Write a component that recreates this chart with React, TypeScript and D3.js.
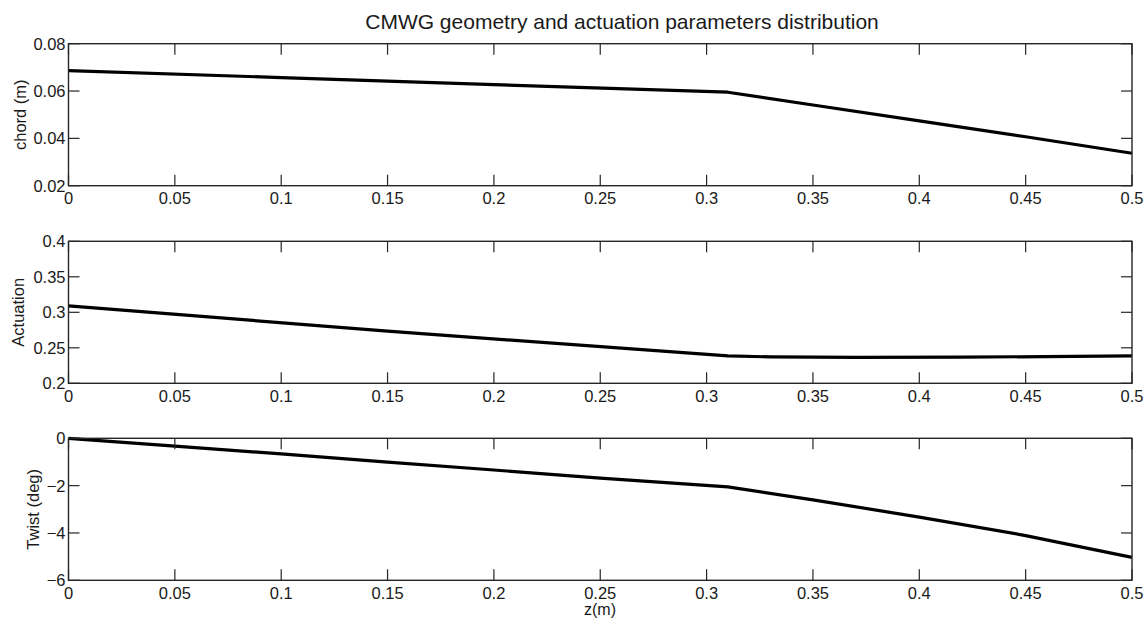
import React from "react";
import * as d3 from "d3";

const titleText = "CMWG geometry and actuation parameters distribution";
const xLabel = "z(m)";
const xTicks = [0, 0.05, 0.1, 0.15, 0.2, 0.25, 0.3, 0.35, 0.4, 0.45, 0.5];

const chordZ = [0, 0.1, 0.2, 0.31, 0.35, 0.4, 0.45, 0.5];
const chordVals = [0.0686, 0.0657, 0.0627, 0.0595, 0.0541, 0.0474, 0.0407, 0.0337];

const actZ = [0, 0.15, 0.31, 0.33, 0.37, 0.42, 0.5];
const actVals = [0.309, 0.2735, 0.2385, 0.2372, 0.2365, 0.2368, 0.2385];

const twistZ = [0, 0.05, 0.1, 0.15, 0.2, 0.25, 0.31, 0.35, 0.4, 0.45, 0.5];
const twistVals = [0, -0.33, -0.66, -1.01, -1.34, -1.68, -2.05, -2.6, -3.33, -4.11, -5.03];

const panels = [
  { label: "chord (m)", z: chordZ, v: chordVals, domain: [0.02, 0.08], ticks: [0.02, 0.04, 0.06, 0.08], fmt: (d: number) => d.toFixed(2), labelX: 20 },
  { label: "Actuation", z: actZ, v: actVals, domain: [0.2, 0.4], ticks: [0.2, 0.25, 0.3, 0.35, 0.4], fmt: (d: number) => String(+d.toFixed(2)), labelX: 18 },
  { label: "Twist (deg)", z: twistZ, v: twistVals, domain: [-6, 0], ticks: [-6, -4, -2, 0], fmt: (d: number) => (d < 0 ? "\u2212" + Math.abs(d) : String(d)), labelX: 33 },
];

const W = 1148;
const H = 619;
const left = 68.5;
const right = 1132;
const tops = [43.7, 241.3, 438.3];
const ph = 142;
const tickLen = 11;
const axisColor = "#262626";
const font = "'Liberation Sans', Arial, Helvetica, sans-serif";

export default function App() {
  const x = d3.scaleLinear().domain([0, 0.5]).range([left, right]);
  return (
    <svg width={W} height={H} style={{ position: "absolute", left: 0, top: 0, background: "#fff" }} fontFamily={font}>
      <rect width={W} height={H} fill="#fff" />
      <text x={622} y={29} textAnchor="middle" fontSize={21} fill="#1a1a1a">{titleText}</text>
      {panels.map((p, i) => {
        const top = tops[i];
        const bottom = top + ph;
        const y = d3.scaleLinear().domain(p.domain).range([bottom, top]);
        const line = d3.line<number>().x((_, k) => x(p.z[k])).y((d) => y(d));
        return (
          <g key={i}>
            <path d={line(p.v) || ""} fill="none" stroke="#000" strokeWidth={3.2} strokeLinejoin="round" />
            <rect x={left} y={top} width={right - left} height={ph} fill="none" stroke={axisColor} strokeWidth={1.4} />
            {xTicks.map((t) => (
              <g key={"x" + t}>
                <line x1={x(t)} x2={x(t)} y1={bottom} y2={bottom - tickLen} stroke={axisColor} strokeWidth={1.2} />
                <line x1={x(t)} x2={x(t)} y1={top} y2={top + tickLen} stroke={axisColor} strokeWidth={1.2} />
                <text x={x(t)} y={bottom + 18.5} textAnchor="middle" fontSize={16.5} fill="#1a1a1a">{String(t)}</text>
              </g>
            ))}
            {p.ticks.map((t) => (
              <g key={"y" + t}>
                <line x1={left} x2={left + tickLen} y1={y(t)} y2={y(t)} stroke={axisColor} strokeWidth={1.2} />
                <line x1={right} x2={right - tickLen} y1={y(t)} y2={y(t)} stroke={axisColor} strokeWidth={1.2} />
                <text x={left - 3} y={y(t)} dy="0.36em" textAnchor="end" fontSize={16.5} fill="#1a1a1a">{p.fmt(t)}</text>
              </g>
            ))}
            <text transform={`translate(${p.labelX},${(top + bottom) / 2}) rotate(-90)`} dy="0.36em" textAnchor="middle" fontSize={16.5} fill="#1a1a1a">{p.label}</text>
          </g>
        );
      })}
      <text x={600} y={615} textAnchor="middle" fontSize={16} fill="#1a1a1a">{xLabel}</text>
    </svg>
  );
}
